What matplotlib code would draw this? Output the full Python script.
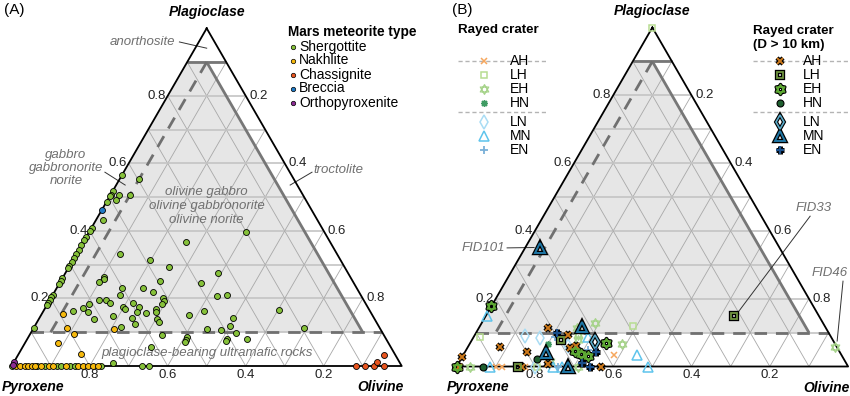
import numpy as np
import matplotlib.pyplot as plt
from matplotlib.path import Path

plt.rcParams['font.family'] = ['Liberation Sans', 'DejaVu Sans']

H = np.sqrt(3) / 2

# ---- panel A data: (plagioclase, olivine) fractions, pyroxene = rest
shergottite = [
    (0.567, 0), (0.517, 0), (0.507, 0), (0.502, 0), (0.487, 0), (0.41, 0), (0.40, 0),
    (0.382, 0), (0.372, 0), (0.357, 0), (0.344, 0), (0.331, 0), (0.32, 0), (0.307, 0),
    (0.295, 0), (0.29, 0), (0.26, 0), (0.252, 0), (0.242, 0), (0.211, 0), (0.203, 0),
    (0.196, 0), (0.186, 0), (0.181, 0), (0.114, 0),
    (0.554, 0.05), (0.507, 0.05), (0.505, 0.023), (0.493, 0.022), (0.431, 0.019),
    (0.331, 0.112), (0.315, 0.196), (0.366, 0.264), (0.397, 0.403), (0.294, 0.257),
    (0.276, 0.39), (0.245, 0.362), (0.252, 0.255), (0.22, 0.253), (0.231, 0.222),
    (0.232, 0.166), (0.211, 0.172), (0.263, 0.106), (0.259, 0.108), (0.25, 0.099),
    (0.2, 0.289), (0.193, 0.293), (0.183, 0.295), (0.211, 0.447), (0.208, 0.422),
    (0.166, 0.602), (0.112, 0.693), (0.196, 0.126), (0.196, 0.143), (0.186, 0.159),
    (0.184, 0.107), (0.173, 0.097), (0.164, 0.076), (0.159, 0.117), (0.139, 0.141),
    (0.176, 0.198), (0.169, 0.206), (0.186, 0.219), (0.174, 0.24), (0.161, 0.24),
    (0.156, 0.266), (0.168, 0.286), (0.16, 0.29), (0.149, 0.186), (0.143, 0.236),
    (0.124, 0.254), (0.139, 0.302), (0.131, 0.313), (0.115, 0.222), (0.151, 0.38),
    (0.164, 0.412), (0.11, 0.445), (0.141, 0.497), (0.119, 0.5), (0.107, 0.484),
    (0.099, 0.526), (0.092, 0.34), (0.085, 0.408), (0.077, 0.409), (0.071, 0.41),
    (0.079, 0.512), (0.073, 0.514), (0.079, 0.564), (0.057, 0.328), (0.008, 0.256),
    (0, 0), (0, 0.066), (0, 0.085), (0, 0.115), (0, 0.126), (0, 0.15), (0, 0.163),
    (0, 0.23), (0, 0.333), (0, 0.353)]
nakhlite = [
    (0.154, 0.055), (0.114, 0.084), (0.094, 0.112), (0.069, 0.085), (0.035, 0.16),
    (0.109, 0.209), (0, 0.012), (0, 0.02), (0, 0.033), (0, 0.042), (0, 0.051),
    (0, 0.059), (0, 0.076), (0, 0.096), (0, 0.105), (0, 0.139), (0, 0.17), (0, 0.182),
    (0, 0.196), (0, 0.209), (0, 0.222)]
chassignite = [(0, 0.882), (0, 0.906), (0, 0.929), (0, 0.955), (0.013, 0.931), (0.033, 0.938)]
breccia = [(0.463, 0)]
orthopyroxenite = [(0.013, 0), (0.004, 0.002)]

# ---- panel B data: rayed craters (small) and D > 10 km (large)
ah_small = [(0, 0.1), (0.034, 0.386), (0, 0.175), (0, 0.115)]
lh_small = [(1.0, 0), (0.088, 0.016), (0.12, 0.391), (0, 0.205)]
eh_small = [(0.057, 0.938), (0, 0.034), (0.127, 0.29), (0.113, 0.25), (0.066, 0.389),
            (0.093, 0.264), (0.078, 0.272), (0, 0.31), (0.015, 0.23)]
hn_small = [(0.066, 0.201)]
ln_small = [(0.09, 0.13), (0.083, 0.172), (0, 0.2), (0.06, 0.255)]
mn_small = [(0.15, 0.002), (0, 0.085), (0, 0.247), (0.088, 0.292), (0.034, 0.443),
            (0, 0.488), (0, 0.27)]
en_small = [(0.086, 0.208), (0, 0.26), (0.05, 0.31)]

ah_large = [(0.029, 0), (0, 0.005), (0.058, 0.082), (0, 0.166), (0.042, 0.158),
            (0.113, 0.176), (0.093, 0.239), (0.007, 0.23), (0.054, 0.263),
            (0.061, 0.274), (0, 0.37)]
lh_large = [(0.149, 0.634), (0, 0.156), (0.078, 0.228)]
eh_large = [(0.178, 0), (0, 0), (0.037, 0.299), (0.031, 0.321), (0.07, 0.346), (0.045, 0.28)]
hn_large = [(0, 0.067), (0.021, 0.194)]
ln_large = [(0.073, 0.317)]
mn_large = [(0.349, 0.039), (0.039, 0.208), (0, 0.285), (0.117, 0.261)]
en_large = [(0.098, 0.207), (0.044, 0.334), (0.009, 0.315), (0, 0.341)]

ticks = [0.2, 0.4, 0.6, 0.8]


def tern(plag, ol):
    plag = np.asarray(plag, float)
    ol = np.asarray(ol, float)
    return ol + plag / 2, plag * H


def xy(pts):
    return tern([p[0] for p in pts], [p[1] for p in pts])


def seg(ax, a, b, **kw):
    x, y = tern([a[0], b[0]], [a[1], b[1]])
    ax.plot(x, y, clip_on=False, solid_capstyle='butt', **kw)


def frame(ax):
    ax.set_xlim(0, 1)
    ax.set_ylim(0, H)
    ax.axis('off')
    sx, sy = tern([0.9, 0.9, 0.1, 0.1], [0, 0.05, 0.85, 0])
    ax.fill(sx, sy, color='#e6e6e6', lw=0, zorder=0)
    for t in np.arange(1, 10) / 10:
        seg(ax, (t, 0), (t, 1 - t), color='#c4c4c4', lw=1.2, zorder=1)
        seg(ax, (0, t), (1 - t, t), color='#a8a8a8', lw=0.6, zorder=1)
        seg(ax, (0, 1 - t), (1 - t, 0), color='#a8a8a8', lw=0.6, zorder=1)
    seg(ax, (0.9, 0), (0.9, 0.1), color='#777777', lw=2, zorder=2)
    seg(ax, (0.9, 0.05), (0.1, 0.85), color='#777777', lw=2, zorder=2)
    seg(ax, (0.9, 0.05), (0.1, 0.05), color='#707070', lw=2, ls=(0, (4.5, 3.2)), zorder=2)
    seg(ax, (0.1, 0), (0.1, 0.9), color='#707070', lw=2, ls=(0, (4.5, 3.2)), zorder=2)
    tx, ty = tern([1, 0, 0, 1], [0, 0, 1, 0])
    ax.plot(tx, ty, color='black', lw=1.3, clip_on=False, zorder=3)
    for t in ticks:
        ax.annotate(f'{t:.1f}', tern(t, 0), xytext=(-2, 0), textcoords='offset pixels',
                    ha='right', va='center', fontsize=9.5, color='#222222')
        ax.annotate(f'{t:.1f}', tern(1 - t, t), xytext=(4, 0), textcoords='offset pixels',
                    ha='left', va='center', fontsize=9.5, color='#222222')
        ax.annotate(f'{t:.1f}', tern(0, 1 - t), xytext=(0, -9), textcoords='offset pixels',
                    ha='center', va='center', fontsize=9.5, color='#222222')
    font = dict(fontsize=10, fontweight='bold', fontstyle='italic', va='center')
    ax.annotate('Plagioclase', tern(1, 0), xytext=(0, 16), textcoords='offset pixels', ha='center', **font)
    ax.annotate('Pyroxene', tern(0, 0), xytext=(-10, -21), textcoords='offset pixels', ha='left', **font)
    ax.annotate('Olivine', tern(0, 1), xytext=(2, -21), textcoords='offset pixels', ha='right', **font)


fig = plt.figure(figsize=(8.5, 3.96), dpi=100)
axA = fig.add_axes([11.7 / 850, 30 / 396, 390 / 850, 337.7 / 396])
axB = fig.add_axes([456.6 / 850, 29.5 / 396, 391.5 / 850, 339 / 396])
frame(axA)
frame(axB)

# ---- panel A
gray = '#707070'
lab = dict(color=gray, fontstyle='italic', fontsize=9.5, ha='center', va='center')
axA.text(0.335, 0.832, 'anorthosite', **lab)
axA.plot([0.43, 0.5], [0.831, 0.815], color='#333333', lw=0.7)
axA.text(0.139, 0.508, 'gabbro\ngabbronorite\nnorite', linespacing=1.15, **lab)
axA.plot([0.239, 0.291], [0.497, 0.464], color='#333333', lw=0.7)
axA.text(0.773, 0.503, 'troctolite', **dict(lab, ha='left'))
axA.plot([0.714, 0.77], [0.464, 0.497], color='#333333', lw=0.7)
axA.text(0.5, 0.41, 'olivine gabbro\nolivine gabbronorite\nolivine norite', linespacing=1.25, **lab)
axA.text(0.5, 0.033, 'plagioclase-bearing ultramafic rocks', **lab)

meteorites = [('Shergottite', shergottite, '#86c13a'),
              ('Nakhlite', nakhlite, '#f6b90d'),
              ('Chassignite', chassignite, '#e8551f'),
              ('Breccia', breccia, '#1f7ac6'),
              ('Orthopyroxenite', orthopyroxenite, '#8c2c93')]
for name, pts, col in meteorites:
    x, y = xy(pts)
    axA.plot(x, y, ls='none', marker='o', ms=4.3, mfc=col, mec='black', mew=0.6,
             clip_on=False, zorder=5)

# ---- panel B
star6 = Path([(0, 1), (-0.866, -0.5), (0.866, -0.5), (0, 1),
              (0, -1), (0.866, 0.5), (-0.866, 0.5), (0, -1)],
             [Path.MOVETO, Path.LINETO, Path.LINETO, Path.CLOSEPOLY] * 2)

small_style = [
    ('AH', ah_small, dict(marker='x', ms=4.3, mew=1.1, mec='#f6a75e')),
    ('LH', lh_small, dict(marker='s', ms=5, mew=1.1, mec='#b8dd92', mfc='none')),
    ('EH', eh_small, dict(marker=star6, ms=7, mew=0.9, mec='#a6d38a', mfc='none')),
    ('HN', hn_small, dict(marker=(8, 2, 0), ms=5, mew=1.0, mec='#3f9b63')),
    ('LN', ln_small, dict(marker='d', ms=7, mew=1.1, mec='#a9dcf4', mfc='none')),
    ('MN', mn_small, dict(marker='^', ms=6.5, mew=1.1, mec='#5ec4ec', mfc='none')),
    ('EN', en_small, dict(marker='+', ms=6, mew=1.3, mec='#7ab0d8')),
]
large_style = [
    ('AH', ah_large, dict(marker='x', ms=4.3, mew=1.4, mec='#cd7a1c'), 1.8),
    ('LH', lh_large, dict(marker='s', ms=5, mew=1.3, mec='#6f9440', mfc='none'), 1.8),
    ('EH', eh_large, dict(marker=star6, ms=7, mew=1.1, mec='#5ea934', mfc='none'), 1.6),
    ('HN', hn_large, dict(marker='o', ms=5, mew=0.8, mec='black', mfc='#1f5f2f'), 0),
    ('LN', ln_large, dict(marker='d', ms=7, mew=1.2, mec='#5aaac9', mfc='none'), 1.6),
    ('MN', mn_large, dict(marker='^', ms=6.5, mew=1.4, mec='#1f77a6', mfc='none'), 1.8),
    ('EN', en_large, dict(marker='+', ms=6, mew=1.6, mec='#1b4f8a'), 2.0),
]


def draw(ax, x, y, st, outline, z):
    if outline:
        ax.plot(x, y, ls='none', marker=st['marker'], ms=st['ms'], mew=st['mew'] + outline,
                mec='black', mfc='none', clip_on=False, zorder=z)
    ax.plot(x, y, ls='none', clip_on=False, zorder=z + 0.1, **st)


for name, pts, st in small_style:
    x, y = xy(pts)
    draw(axB, x, y, st, 0, 4)
for name, pts, st, ol in large_style:
    x, y = xy(pts)
    draw(axB, x, y, st, ol, 6)

ann = dict(color=gray, fontstyle='italic', fontsize=9.5, va='center')
axB.text(0.124, 0.303, 'FID101', ha='right', **ann)
axB.plot([0.129, 0.198], [0.303, 0.304], color='#333333', lw=0.7)
axB.text(0.913, 0.405, 'FID33', ha='center', **ann)
axB.plot([0.903, 0.72], [0.384, 0.14], color='#333333', lw=0.7)
axB.text(0.954, 0.239, 'FID46', ha='center', **ann)
axB.plot([0.987, 0.972], [0.218, 0.065], color='#333333', lw=0.7, clip_on=False)

# ---- overlay in pixel units for panel letters and legends
ov = fig.add_axes([0, 0, 1, 1])
ov.set_xlim(0, 850)
ov.set_ylim(396, 0)
ov.axis('off')
ov.text(4, 10, '(A)', fontsize=11, va='center')
ov.text(452, 10, '(B)', fontsize=11, va='center')

ov.text(288, 32, 'Mars meteorite type', fontsize=9.8, fontweight='bold', va='center')
for i, (name, pts, col) in enumerate(meteorites):
    yy = 46.5 + 14 * i
    ov.plot([293.5], [yy], marker='o', ms=3.2, mfc=col, mec='black', mew=0.5)
    ov.text(299, yy, name, fontsize=10, va='center')

ov.text(458, 30, 'Rayed crater', fontsize=9.6, fontweight='bold', va='center')
ov.text(753, 38, 'Rayed crater\n(D > 10 km)', fontsize=9.6, fontweight='bold', va='center',
        linespacing=1.15)
rows = [61, 75, 89, 103, 122, 136, 150]
for x0, x1 in [(458, 548), (753, 850)]:
    for ys in [61, 112]:
        ov.plot([x0, x1], [ys, ys], color='#b4b4b4', lw=1, ls=(0, (3, 2)), zorder=1)
for yy, (name, pts, st) in zip(rows, small_style):
    draw(ov, [484], [yy], st, 0, 4)
    ov.text(510, yy, name, fontsize=10, va='center', zorder=5)
for yy, (name, pts, st, ol) in zip(rows, large_style):
    draw(ov, [780], [yy], st, ol, 4)
    ov.text(803, yy, name, fontsize=10, va='center', zorder=5)

fig.savefig('out.png', dpi=100)
